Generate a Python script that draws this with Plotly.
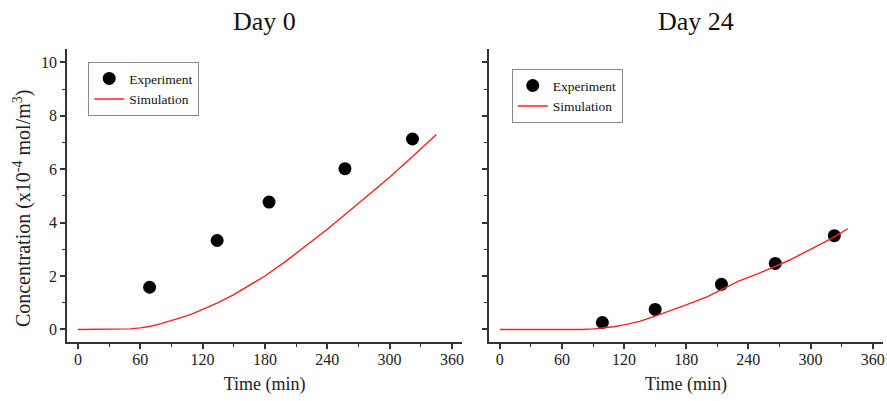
import plotly.graph_objects as go

# Day 0
exp0_t = [69, 134, 184, 257, 322]
exp0_c = [1.58, 3.33, 4.77, 6.02, 7.13]
sim0_t = [0, 20, 40, 50, 60, 70, 80, 90, 100, 110, 120, 135, 150, 165, 180, 200, 220, 240, 260, 280, 300, 320, 345]
sim0_c = [0, 0, 0, 0.02, 0.06, 0.12, 0.22, 0.33, 0.45, 0.58, 0.75, 1.0, 1.3, 1.65, 2.0, 2.55, 3.15, 3.75, 4.4, 5.05, 5.7, 6.4, 7.3]

# Day 24
exp24_t = [99, 150, 214, 266, 323]
exp24_c = [0.26, 0.75, 1.69, 2.47, 3.51]
sim24_t = [0, 20, 40, 60, 70, 80, 90, 100, 110, 120, 135, 150, 165, 180, 200, 215, 230, 250, 265, 280, 300, 320, 336]
sim24_c = [0, 0, 0, -0.02, -0.02, 0, 0.02, 0.05, 0.1, 0.17, 0.3, 0.5, 0.7, 0.92, 1.22, 1.52, 1.8, 2.1, 2.35, 2.6, 3.0, 3.4, 3.77]

x_ticks = [0, 60, 120, 180, 240, 300, 360]
y_ticks = [0, 2, 4, 6, 8, 10]

FONT = "Liberation Serif"
AX = "#333333"
XR = [-10.5, 370]
YR = [-0.47, 10.5]
D1 = [0, 0.4845]
D2 = [0.5171, 1]

fig = go.Figure()
fig.add_trace(go.Scatter(x=exp0_t, y=exp0_c, mode="markers", name="Experiment",
                         marker=dict(color="black", size=13), xaxis="x", yaxis="y", legend="legend"))
fig.add_trace(go.Scatter(x=sim0_t, y=sim0_c, mode="lines", name="Simulation",
                         line=dict(color="#ff2020", width=1.4), xaxis="x", yaxis="y", legend="legend"))
fig.add_trace(go.Scatter(x=exp24_t, y=exp24_c, mode="markers", name="Experiment",
                         marker=dict(color="black", size=13), xaxis="x2", yaxis="y2", legend="legend2"))
fig.add_trace(go.Scatter(x=sim24_t, y=sim24_c, mode="lines", name="Simulation",
                         line=dict(color="#ff2020", width=1.4), xaxis="x2", yaxis="y2", legend="legend2"))

tickfont = dict(family=FONT, size=16, color="#222")

def xax(domain, anchor):
    return dict(domain=domain, anchor=anchor, range=XR, tickvals=x_ticks, ticks="outside",
                ticklen=5, tickwidth=1.5, tickcolor=AX, showline=True, linecolor=AX, linewidth=1.5,
                showgrid=False, zeroline=False, tickfont=tickfont, ticklabelstandoff=-3,
                minor=dict(dtick=30, tick0=0, ticks="outside", ticklen=3, tickwidth=1.2, tickcolor=AX),
                title=dict(text="Time (min)", font=dict(family=FONT, size=18, color="#222"), standoff=10))

def yax(domain, anchor, labels=True):
    return dict(domain=domain, anchor=anchor, range=YR, tickvals=y_ticks, ticks="outside",
                ticklen=5, tickwidth=1.5, tickcolor=AX, showline=True, linecolor=AX, linewidth=1.5,
                showgrid=False, zeroline=False, tickfont=tickfont, showticklabels=labels,
                minor=dict(dtick=1, tick0=0, ticks="outside", ticklen=3, tickwidth=1.2, tickcolor=AX))

def xtop(over, anchor, domain):
    return dict(overlaying=over, anchor=anchor, side="top", domain=domain, range=XR, tickvals=x_ticks,
                ticks="inside", ticklen=5, tickwidth=1.5, tickcolor=AX, showline=True, linecolor=AX,
                linewidth=1.5, showgrid=False, zeroline=False, showticklabels=False,
                minor=dict(dtick=30, tick0=0, ticks="inside", ticklen=3, tickwidth=1.2, tickcolor=AX))

def yright(over, anchor, domain):
    return dict(overlaying=over, anchor=anchor, side="right", domain=domain, range=YR, tickvals=y_ticks,
                ticks="inside", ticklen=5, tickwidth=1.5, tickcolor=AX, showline=True, linecolor=AX,
                linewidth=1.5, showgrid=False, zeroline=False, showticklabels=False,
                minor=dict(dtick=1, tick0=0, ticks="inside", ticklen=3, tickwidth=1.2, tickcolor=AX))

legfont = dict(family=FONT, size=13.5, color="#111")

fig.update_layout(
    width=887, height=401,
    margin=dict(l=67, r=2, t=49, b=59),
    paper_bgcolor="white", plot_bgcolor="white",
    showlegend=True,
    xaxis=xax(D1, "y"),
    yaxis=yax([0, 1], "x"),
    xaxis2=xax(D2, "y2"),
    yaxis2=yax([0, 1], "x2", labels=False),
    xaxis3=xtop("x", "y", D1),
    yaxis3=yright("y", "x", [0, 1]),
    xaxis4=xtop("x2", "y2", D2),
    yaxis4=yright("y2", "x2", [0, 1]),
    legend=dict(x=0.026, y=0.955, xanchor="left", yanchor="top", font=legfont,
                bordercolor="#888", borderwidth=1, bgcolor="white", tracegroupgap=0,
                itemwidth=30),
    legend2=dict(x=0.545, y=0.931, xanchor="left", yanchor="top", font=legfont,
                 bordercolor="#888", borderwidth=1, bgcolor="white", tracegroupgap=0,
                 itemwidth=30),
    annotations=[
        dict(text="Day 0", x=sum(D1) / 2, y=1, xref="paper", yref="paper", xanchor="center",
             yanchor="bottom", yshift=11, showarrow=False, font=dict(family=FONT, size=26, color="#111")),
        dict(text="Day 24", x=0.5171 + (1 - 0.5171) / 2 + 0.012, y=1, xref="paper", yref="paper",
             xanchor="center", yanchor="bottom", yshift=11, showarrow=False,
             font=dict(family=FONT, size=26, color="#111")),
        dict(text="Concentration (x10<sup>-4</sup> mol/m<sup>3</sup>)", x=0, y=0.457,
             xref="paper", yref="paper", xanchor="center", yanchor="middle", xshift=-45,
             textangle=-90, showarrow=False, font=dict(family=FONT, size=20, color="#222")),
    ],
)

fig.write_html("out.html", config={"displayModeBar": False},
               post_script="document.body.style.margin='0';")
